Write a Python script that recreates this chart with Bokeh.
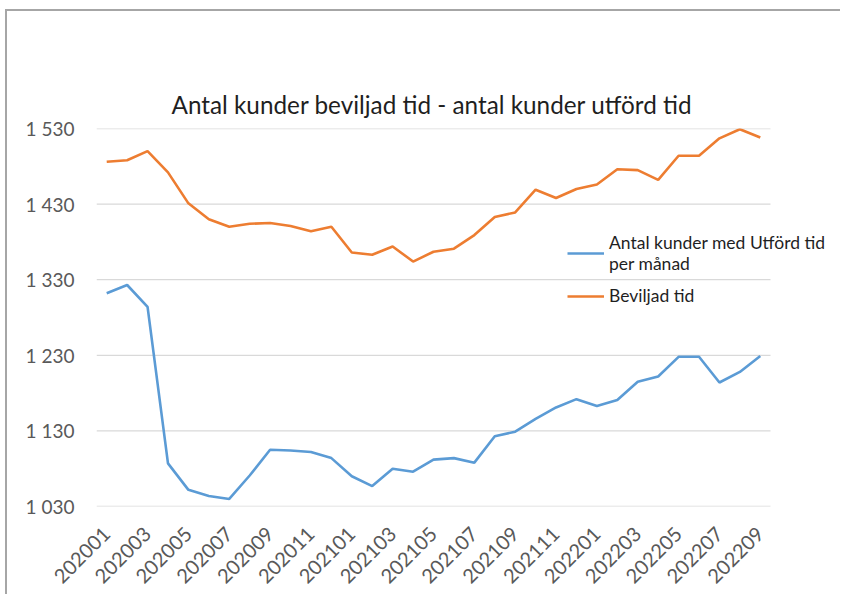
from bokeh.plotting import figure
from bokeh.layouts import column
from bokeh.models import FixedTicker, Legend, LegendItem, Range1d
from bokeh.embed import file_html
from bokeh.resources import INLINE
import math

months = ["202001","202002","202003","202004","202005","202006","202007","202008","202009","202010","202011","202012",
          "202101","202102","202103","202104","202105","202106","202107","202108","202109","202110","202111","202112",
          "202201","202202","202203","202204","202205","202206","202207","202208","202209"]

utford = [1312, 1323, 1294, 1087, 1052, 1044, 1040, 1071, 1105, 1104, 1102, 1094,
          1070, 1057, 1080, 1076, 1092, 1094, 1088, 1123, 1129, 1146, 1161, 1172,
          1163, 1171, 1195, 1202, 1228, 1228, 1194, 1208, 1229]

beviljad = [1486, 1488, 1500, 1472, 1431, 1410, 1400, 1404, 1405, 1401, 1394, 1400,
            1366, 1363, 1374, 1354, 1367, 1371, 1389, 1413, 1419, 1449, 1438, 1450,
            1456, 1476, 1475, 1462, 1494, 1494, 1517, 1529, 1518]

y_ticks = [1030, 1130, 1230, 1330, 1430, 1530]
title_text = "Antal kunder beviljad tid - antal kunder utförd tid"
label_utford = "Antal kunder med Utförd tid\nper månad"
label_beviljad = "Beviljad tid"

FONT = "Lato"
x = list(range(len(months)))
n = len(months)

W, H = 840, 594
LEFT, RIGHT, TOP, BOTTOM = 96, 2, 128, 88
unit = (771 - 97) / n            # pixels per month in the reference
x_end = -0.5 + (W - LEFT - RIGHT) / unit

p = figure(width=W, height=H, output_backend="svg", toolbar_location=None,
           x_range=Range1d(-0.5, x_end), y_range=Range1d(1030, 1530),
           min_border_left=LEFT, min_border_right=RIGHT, min_border_top=TOP, min_border_bottom=BOTTOM,
           title=title_text)
p.outline_line_color = None
p.background_fill_color = "white"
p.border_fill_color = None

p.title.text_font = FONT
p.title.text_font_size = "24.3px"
p.title.text_font_style = "normal"
p.title.text_color = "#1f1f1f"
p.title.align = "left"
p.title.offset = 75
p.title.standoff = 20

# horizontal gridlines limited to the category area
p.segment(x0=[-0.5] * len(y_ticks), x1=[n - 0.5] * len(y_ticks), y0=y_ticks, y1=y_ticks,
          line_color="#d9d9d9", line_width=1.3)

r1 = p.line(x, utford, line_color="#5b9bd5", line_width=2.6)
r2 = p.line(x, beviljad, line_color="#ed7d31", line_width=2.6)

p.xaxis.ticker = FixedTicker(ticks=x[::2])
p.xaxis.major_label_overrides = {i: months[i] for i in x}
p.xaxis.major_label_orientation = math.pi / 4
p.xaxis.axis_line_color = None
p.xaxis.major_tick_line_color = None
p.xaxis.minor_tick_line_color = None
p.xaxis.major_tick_out = 0
p.xaxis.major_tick_in = 0
p.xaxis.major_label_text_font = FONT
p.xaxis.major_label_text_font_size = "20px"
p.xaxis.major_label_text_color = "#595959"
p.xaxis.major_label_standoff = 24

p.yaxis.ticker = FixedTicker(ticks=y_ticks)
p.yaxis.major_label_overrides = {v: f"{v:,}".replace(",", " ") for v in y_ticks}
p.yaxis.axis_line_color = None
p.yaxis.major_tick_line_color = None
p.yaxis.minor_tick_line_color = None
p.yaxis.major_tick_out = 0
p.yaxis.major_tick_in = 0
p.yaxis.major_label_text_font = FONT
p.yaxis.major_label_text_font_size = "19px"
p.yaxis.major_label_text_color = "#595959"
p.yaxis.major_label_standoff = 22

p.xgrid.grid_line_color = None
p.ygrid.grid_line_color = None

legend = Legend(items=[LegendItem(label=label_utford, renderers=[r1]),
                       LegendItem(label=label_beviljad, renderers=[r2])],
                location=(471, 200))
legend.background_fill_alpha = 0
legend.border_line_color = None
legend.label_text_font = FONT
legend.label_text_font_size = "17.5px"
legend.label_text_color = "#1f1f1f"
legend.glyph_width = 37
legend.label_standoff = 5
legend.padding = 0
legend.margin = 0
legend.spacing = 11
p.add_layout(legend, "center")

page = column(p, width=W, height=H,
              styles={"background-color": "#ffffff",
                      "background-image": "linear-gradient(#a6a6a6, #a6a6a6), linear-gradient(#a6a6a6, #a6a6a6)",
                      "background-position": "5px 9px, 5px 9px",
                      "background-size": "2px 600px, 900px 2px",
                      "background-repeat": "no-repeat, no-repeat"})

open("out.html", "w").write(file_html(page, INLINE))
